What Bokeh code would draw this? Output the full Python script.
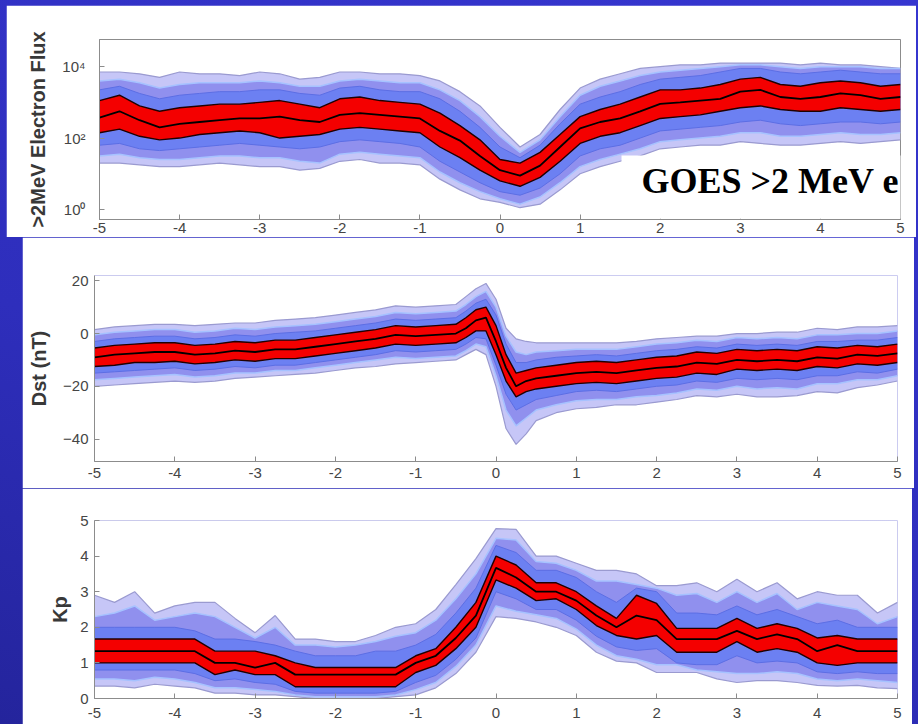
from bokeh.plotting import figure
from bokeh.models import Range1d, FixedTicker, Label, Spacer, BoxAnnotation
from bokeh.layouts import column, row
from bokeh.embed import file_html
from bokeh.resources import INLINE

# ---------------- data (days from event) ----------------
x_ticks = [-5, -4, -3, -2, -1, 0, 1, 2, 3, 4, 5]
x_tick_labels = ["-5", "-4", "-3", "-2", "-1", "0", "1", "2", "3", "4", "5"]

t41 = [-5.0, -4.75, -4.5, -4.25, -4.0, -3.75, -3.5, -3.25, -3.0, -2.75, -2.5, -2.25, -2.0, -1.75,
       -1.5, -1.25, -1.0, -0.75, -0.5, -0.25, 0.0, 0.25, 0.5, 0.75, 1.0, 1.25, 1.5, 1.75, 2.0,
       2.25, 2.5, 2.75, 3.0, 3.25, 3.5, 3.75, 4.0, 4.25, 4.5, 4.75, 5.0]

# GOES >2 MeV electron flux, log10 values of percentile curves
flux_ticks = [1, 100, 10000]
flux_tick_labels = ["10\u2070", "10\u00b2", "10\u2074"]
flux_med = [2.57, 2.75, 2.50, 2.30, 2.40, 2.45, 2.50, 2.55, 2.55, 2.60, 2.50, 2.45, 2.65, 2.70, 2.65, 2.60, 2.55, 2.20, 1.93, 1.50,
            1.10, 0.95, 1.23, 1.75, 2.27, 2.45, 2.55, 2.75, 2.96, 3.00, 3.05, 3.10, 3.30, 3.35, 3.15, 3.10, 3.15, 3.25, 3.20, 3.10, 3.15]
flux_red_lo = [2.15, 2.25, 2.05, 1.95, 2.00, 2.10, 2.15, 2.20, 2.15, 2.00, 2.05, 2.10, 2.25, 2.30, 2.25, 2.20, 2.15, 1.75, 1.45, 1.10,
               0.80, 0.65, 0.90, 1.35, 1.85, 2.05, 2.15, 2.35, 2.55, 2.60, 2.65, 2.75, 2.85, 2.90, 2.80, 2.75, 2.75, 2.85, 2.80, 2.75, 2.80]
flux_red_hi = [3.05, 3.20, 2.90, 2.75, 2.85, 2.90, 2.95, 2.95, 3.00, 3.05, 2.95, 2.85, 3.10, 3.15, 3.05, 3.00, 2.95, 2.70, 2.35, 1.95,
               1.40, 1.30, 1.60, 2.10, 2.60, 2.80, 2.95, 3.15, 3.35, 3.35, 3.40, 3.50, 3.65, 3.70, 3.50, 3.45, 3.55, 3.60, 3.55, 3.45, 3.50]
flux_b3_lo = [1.80, 1.85, 1.70, 1.65, 1.70, 1.75, 1.80, 1.85, 1.80, 1.75, 1.70, 1.75, 1.90, 1.95, 1.90, 1.85, 1.75, 1.35, 1.05, 0.75,
              0.50, 0.40, 0.60, 1.00, 1.50, 1.70, 1.80, 2.00, 2.20, 2.25, 2.30, 2.35, 2.45, 2.50, 2.40, 2.35, 2.40, 2.45, 2.45, 2.40, 2.45]
flux_b3_hi = [3.35, 3.45, 3.25, 3.10, 3.20, 3.25, 3.30, 3.30, 3.35, 3.35, 3.25, 3.20, 3.40, 3.45, 3.35, 3.30, 3.30, 3.10, 2.75, 2.30,
              1.75, 1.45, 1.80, 2.40, 2.95, 3.15, 3.30, 3.50, 3.65, 3.70, 3.75, 3.85, 3.95, 3.95, 3.85, 3.80, 3.85, 3.90, 3.85, 3.80, 3.80]
flux_b2_lo = [1.50, 1.55, 1.45, 1.40, 1.40, 1.45, 1.50, 1.50, 1.45, 1.45, 1.35, 1.30, 1.55, 1.60, 1.55, 1.50, 1.45, 1.05, 0.75, 0.50,
              0.30, 0.15, 0.35, 0.75, 1.20, 1.40, 1.55, 1.70, 1.90, 1.95, 2.00, 2.05, 2.15, 2.15, 2.05, 2.05, 2.10, 2.15, 2.10, 2.10, 2.15]
flux_b2_hi = [3.60, 3.65, 3.55, 3.40, 3.50, 3.55, 3.55, 3.55, 3.60, 3.55, 3.45, 3.45, 3.60, 3.65, 3.60, 3.55, 3.55, 3.35, 3.05, 2.60,
              2.05, 1.60, 1.95, 2.60, 3.20, 3.45, 3.60, 3.75, 3.85, 3.90, 3.95, 4.00, 4.05, 4.05, 4.00, 3.95, 4.00, 4.00, 4.00, 3.95, 3.95]
flux_b1_lo = [1.30, 1.30, 1.25, 1.20, 1.20, 1.25, 1.30, 1.25, 1.20, 1.20, 1.10, 1.15, 1.35, 1.40, 1.30, 1.30, 1.25, 0.85, 0.55, 0.30,
              0.20, 0.05, 0.15, 0.55, 1.00, 1.20, 1.35, 1.50, 1.70, 1.75, 1.80, 1.80, 1.90, 1.85, 1.80, 1.80, 1.85, 1.90, 1.85, 1.90, 1.95]
flux_b1_hi = [3.85, 3.85, 3.80, 3.70, 3.85, 3.80, 3.80, 3.75, 3.85, 3.80, 3.65, 3.70, 3.85, 3.85, 3.80, 3.80, 3.75, 3.60, 3.30, 2.90,
              2.30, 1.75, 2.10, 2.80, 3.40, 3.65, 3.80, 3.95, 4.00, 4.05, 4.05, 4.10, 4.10, 4.10, 4.10, 4.05, 4.10, 4.05, 4.05, 4.00, 3.95]

# Dst (nT)
dst_t = [-5.0, -4.75, -4.5, -4.25, -4.0, -3.75, -3.5, -3.25, -3.0, -2.75, -2.5, -2.25, -2.0, -1.75, -1.5,
         -1.25, -1.0, -0.75, -0.5, -0.375, -0.25, -0.125, 0.0, 0.125, 0.25, 0.375, 0.5, 0.75, 1.0, 1.25,
         1.5, 1.75, 2.0, 2.25, 2.5, 2.75, 3.0, 3.25, 3.5, 3.75, 4.0, 4.25, 4.5, 4.75, 5.0]
dst_ticks = [-40, -20, 0, 20]
dst_med = [-9, -8, -7.5, -7, -7, -8, -7.5, -6.5, -7, -6, -6, -5, -4, -3, -2, -0.5, -1, -0.5, 0, 2,
           5, 6, -3, -13, -20, -18, -17, -16, -15, -14.5, -15, -14, -13, -12.5, -11, -11.5, -10, -10.5, -10, -10.5,
           -9, -9.5, -8, -8.5, -7.5]
dst_red_lo = [-12.5, -12, -11, -11, -10.5, -11.5, -11, -10, -10.5, -9.5, -9.5, -8.5, -7.5, -6.5, -5.5, -4, -4.5, -4, -3.5, -1.5,
              1, 1, -8, -18, -24, -22, -21, -20, -19, -18.5, -19, -18, -17, -16.5, -15, -15.5, -13.5, -14, -13.5, -14,
              -12.5, -13, -11.5, -12, -11]
dst_red_hi = [-5.5, -4.5, -4, -3.5, -3.5, -4.5, -4, -3, -3.5, -2.5, -2.5, -1.5, -0.5, 0.5, 1.5, 3, 2.5, 3, 3.5, 6,
              9, 10, 3, -8, -15, -14, -13, -12, -11, -10.5, -11, -10, -9, -8.5, -7, -7.5, -6, -6.5, -6, -6.5,
              -5, -5.5, -4.5, -5, -4]
dst_b3_lo = [-15, -14.5, -14, -13.5, -13, -14, -13.5, -12.5, -13, -12, -12, -11, -10, -9, -8, -6.5, -7, -6.5, -6, -4,
             -1.5, -2, -12, -23, -29, -27, -25, -23.5, -22, -21.5, -22, -21, -20, -19.5, -18, -18.5, -17, -17.5, -17, -17.5,
             -16, -16, -14.5, -15, -13.5]
dst_b3_hi = [-3, -2, -1.5, -1, -1, -2, -1.5, -0.5, -1, 0, 0.5, 1, 2, 3, 4, 5.5, 5, 5.5, 6, 8.5,
             11.5, 13, 7, -4, -11, -11, -10, -9, -8.5, -8, -8.5, -7.5, -6.5, -6, -5, -5.5, -4, -4.5, -4, -4.5,
             -3, -3, -2.5, -2.5, -1.5]
dst_b2_lo = [-17.5, -17, -16.5, -16, -15.5, -16.5, -16, -15, -15, -14, -14, -13, -12, -11, -10, -9, -9.5, -9, -8.5, -6.5,
             -4, -5, -16, -29, -35, -32, -29, -27, -25.5, -25, -25, -24, -23.5, -22.5, -21, -21.5, -20, -21, -20.5, -21,
             -19, -19, -17.5, -17.5, -16]
dst_b2_hi = [-0.5, 0.5, 1, 1.5, 1.5, 0.5, 1, 2, 1.5, 2.5, 3, 3.5, 4.5, 5.5, 6.5, 8, 7.5, 8, 8.5, 11,
             14, 16, 10, -1, -7, -8, -7, -6.5, -6, -6, -6, -5, -4, -3.5, -2.5, -3, -1.5, -2, -1.5, -2,
             -0.5, -0.5, 0, 0, 1]
dst_b1_lo = [-20, -19.5, -19, -18.5, -18, -18.5, -18, -17, -16.5, -16, -15.5, -15, -14, -13, -12.5, -11.5, -11, -10.5, -10, -8,
             -6, -8, -20, -36, -42, -38, -33, -30, -28.5, -28, -27, -27, -26, -25, -23.5, -24, -23, -24, -24, -23.5,
             -22, -22.5, -20.5, -19.5, -18]
dst_b1_hi = [1.5, 2.5, 3, 3.5, 3.5, 3, 3.5, 4, 4, 5, 5.5, 6, 7, 8, 9, 10.5, 10, 10.5, 11, 14,
             17, 19, 13, 2, -2, -3, -3.5, -3.5, -3.5, -3.5, -3.5, -3, -2, -1.5, -1, -1, 0, 0, 0.5, 0.5,
             2, 1.5, 2.5, 2.5, 3]

# Kp
kp_ticks = [0, 1, 2, 3, 4, 5]
kp_med = [1.33, 1.33, 1.33, 1.33, 1.33, 1.33, 1.0, 1.0, 0.87, 1.0, 0.67, 0.67, 0.67, 0.67, 0.67, 0.67, 1.0, 1.2, 1.7, 2.33,
          3.67, 3.4, 3.0, 3.0, 2.75, 2.33, 2.0, 2.33, 2.2, 1.67, 1.67, 1.67, 1.9, 1.67, 1.8, 1.67, 1.33, 1.5, 1.33, 1.33, 1.33]
kp_red_hi = [1.67, 1.67, 1.67, 1.67, 1.67, 1.67, 1.33, 1.33, 1.33, 1.2, 1.0, 0.87, 0.87, 0.87, 0.87, 0.87, 1.2, 1.4, 2.0, 2.7,
             4.0, 3.75, 3.25, 3.25, 3.0, 2.6, 2.25, 2.9, 2.67, 1.97, 1.97, 1.97, 2.25, 1.97, 2.1, 1.97, 1.7, 1.77, 1.67, 1.67, 1.67]
kp_red_lo = [1.0, 1.0, 1.0, 1.0, 1.0, 1.0, 0.67, 0.8, 0.67, 0.67, 0.33, 0.33, 0.33, 0.33, 0.33, 0.33, 0.73, 0.93, 1.4, 2.0,
             3.33, 3.1, 2.75, 2.8, 2.5, 2.05, 1.77, 1.67, 1.77, 1.3, 1.3, 1.3, 1.6, 1.3, 1.4, 1.3, 1.0, 0.93, 1.0, 1.0, 1.0]
kp_b3_hi = [2.0, 2.0, 2.0, 2.0, 2.0, 1.9, 1.67, 1.67, 1.6, 1.5, 1.33, 1.2, 1.2, 1.2, 1.33, 1.33, 1.5, 1.8, 2.4, 3.1,
            4.3, 4.1, 3.6, 3.6, 3.4, 3.0, 2.7, 3.1, 3.0, 2.4, 2.4, 2.35, 2.6, 2.35, 2.5, 2.3, 2.1, 2.2, 2.0, 2.0, 2.0]
kp_b3_lo = [0.8, 0.8, 0.8, 0.8, 0.8, 0.7, 0.5, 0.55, 0.45, 0.4, 0.2, 0.15, 0.15, 0.15, 0.15, 0.2, 0.45, 0.65, 1.1, 1.7,
            3.0, 2.8, 2.5, 2.5, 2.2, 1.75, 1.45, 1.35, 1.4, 1.0, 0.95, 0.95, 1.2, 1.0, 1.05, 1.0, 0.75, 0.7, 0.75, 0.7, 0.7]
kp_b2_hi = [2.3, 2.4, 2.6, 2.2, 2.3, 2.4, 2.3, 2.0, 1.7, 2.0, 1.5, 1.5, 1.45, 1.5, 1.6, 1.75, 1.85, 2.2, 2.8, 3.5,
            4.5, 4.45, 3.85, 3.8, 3.6, 3.3, 3.3, 3.2, 3.1, 2.9, 2.95, 2.7, 3.0, 2.7, 2.95, 2.5, 2.7, 2.6, 2.5, 2.1, 2.3]
kp_b2_lo = [0.55, 0.55, 0.5, 0.6, 0.55, 0.45, 0.3, 0.3, 0.25, 0.2, 0.1, 0.05, 0.05, 0.05, 0.05, 0.1, 0.25, 0.45, 0.9, 1.5,
            2.6, 2.45, 2.35, 2.25, 1.95, 1.5, 1.2, 1.1, 0.95, 0.95, 0.8, 0.75, 0.7, 0.7, 0.75, 0.7, 0.55, 0.5, 0.55, 0.5, 0.45]
kp_b1_hi = [2.9, 2.7, 3.0, 2.4, 2.6, 2.7, 2.7, 2.25, 1.85, 2.33, 1.67, 1.67, 1.6, 1.6, 1.77, 2.0, 2.1, 2.5, 3.2, 3.93,
            4.77, 4.75, 4.0, 4.0, 3.8, 3.6, 3.6, 3.5, 3.17, 3.17, 3.25, 3.0, 3.35, 3.0, 3.25, 2.8, 3.0, 2.9, 2.9, 2.4, 2.7]
kp_b1_lo = [0.35, 0.35, 0.3, 0.4, 0.35, 0.3, 0.15, 0.15, 0.1, 0.1, 0.05, 0.0, 0.0, 0.0, 0.0, 0.05, 0.1, 0.3, 0.7, 1.3,
            2.3, 2.25, 2.15, 2.0, 1.77, 1.3, 1.05, 1.0, 0.73, 0.73, 0.73, 0.55, 0.45, 0.5, 0.5, 0.45, 0.37, 0.35, 0.37, 0.3, 0.28]

# ---------------- styling ----------------
C_B1, C_B2, C_B3, C_RED = "#c6c6f7", "#9090ee", "#6c80f2", "#f40000"
E_B1, E_B2, E_B3 = "#9a9ad0", "#a6c2ff", "#5c6ee4"
AX = "#8c8c8c"
FONT = "Liberation Sans"


def bands(p, t, b1lo, b1hi, b2lo, b2hi, b3lo, b3hi, rlo, rhi, med):
    p.varea(x=t, y1=b1lo, y2=b1hi, fill_color=C_B1)
    p.varea(x=t, y1=b2lo, y2=b2hi, fill_color=C_B2)
    p.varea(x=t, y1=b3lo, y2=b3hi, fill_color=C_B3)
    p.varea(x=t, y1=rlo, y2=rhi, fill_color=C_RED)
    for arr in (b1lo, b1hi):
        p.line(t, arr, line_color=E_B1, line_width=1.2)
    for arr in (b2lo, b2hi):
        p.line(t, arr, line_color=E_B2, line_width=1.5)
    for arr in (b3lo, b3hi):
        p.line(t, arr, line_color=E_B3, line_width=1)
    for arr in (rlo, rhi):
        p.line(t, arr, line_color="#200000", line_width=1.4)
    p.line(t, med, line_color="black", line_width=1.8)


def style(p, ylabel, xstand, ystand, lstand):
    p.grid.grid_line_color = None
    p.background_fill_color = "white"
    p.border_fill_color = "white"
    for ax in (p.xaxis, p.yaxis):
        ax.axis_line_color = AX
        ax.major_tick_line_color = AX
        ax.minor_tick_line_color = None
        ax.major_tick_in = 5
        ax.major_tick_out = 0
        ax.major_label_text_font = FONT
        ax.major_label_text_font_size = "15px"
        ax.major_label_text_color = "#454545"
    p.xaxis.ticker = FixedTicker(ticks=x_ticks)
    p.xaxis.major_label_overrides = {k: v for k, v in zip(x_ticks, x_tick_labels)}
    p.xaxis.major_label_standoff = xstand
    p.yaxis.major_label_standoff = ystand
    p.yaxis.axis_label = ylabel
    p.yaxis.axis_label_text_font = FONT
    p.yaxis.axis_label_text_font_style = "bold"
    p.yaxis.axis_label_text_font_size = "20px"
    p.yaxis.axis_label_text_color = "#383838"
    p.yaxis.axis_label_standoff = lstand


# top panel: flux
flux_vals = {}
for name, arr in [("b1lo", flux_b1_lo), ("b1hi", flux_b1_hi), ("b2lo", flux_b2_lo), ("b2hi", flux_b2_hi),
                  ("b3lo", flux_b3_lo), ("b3hi", flux_b3_hi), ("rlo", flux_red_lo), ("rhi", flux_red_hi),
                  ("med", flux_med)]:
    flux_vals[name] = [10 ** v for v in arr]

p1 = figure(width=910, height=232, y_axis_type="log", output_backend="svg", toolbar_location=None,
            x_range=Range1d(-5, 5), y_range=Range1d(10 ** -0.28, 10 ** 4.76),
            min_border_left=93, min_border_right=16, min_border_top=34, min_border_bottom=18)
bands(p1, t41, flux_vals["b1lo"], flux_vals["b1hi"], flux_vals["b2lo"], flux_vals["b2hi"],
      flux_vals["b3lo"], flux_vals["b3hi"], flux_vals["rlo"], flux_vals["rhi"], flux_vals["med"])
style(p1, ">2MeV Electron Flux", 3, 14, 10)
p1.yaxis.ticker = FixedTicker(ticks=flux_ticks)
p1.yaxis.major_label_overrides = {k: v for k, v in zip(flux_ticks, flux_tick_labels)}
p1.outline_line_color = AX

# white caption box with "GOES >2 MeV e"
p1.add_layout(BoxAnnotation(left=1.517, right=5.3, bottom=10 ** -0.26, top=10 ** 1.51,
                            fill_color="white", fill_alpha=1.0, line_color=None))
p1.add_layout(Label(x=1.767, y=10 ** 0.80, text="GOES >2 MeV e", text_font="Liberation Serif",
                    text_font_style="bold", text_font_size="36px", text_color="black",
                    text_baseline="alphabetic", text_align="left"))

# middle panel: Dst
p2 = figure(width=892, height=251, output_backend="svg", toolbar_location=None,
            x_range=Range1d(-5, 5), y_range=Range1d(-48.5, 22),
            min_border_left=72, min_border_right=17, min_border_top=38, min_border_bottom=27)
bands(p2, dst_t, dst_b1_lo, dst_b1_hi, dst_b2_lo, dst_b2_hi, dst_b3_lo, dst_b3_hi,
      dst_red_lo, dst_red_hi, dst_med)
style(p2, "Dst (nT)", 6, 6, 10)
p2.yaxis.ticker = FixedTicker(ticks=dst_ticks)
p2.outline_line_color = None

# bottom panel: Kp
p3 = figure(width=890, height=236, output_backend="svg", toolbar_location=None,
            x_range=Range1d(-5, 5), y_range=Range1d(0, 5),
            min_border_left=72, min_border_right=15, min_border_top=32, min_border_bottom=26)
bands(p3, t41, kp_b1_lo, kp_b1_hi, kp_b2_lo, kp_b2_hi, kp_b3_lo, kp_b3_hi,
      kp_red_lo, kp_red_hi, kp_med)
style(p3, "Kp", 9, 6, 6)
p3.yaxis.ticker = FixedTicker(ticks=kp_ticks)
p3.outline_line_color = None

layout = column(
    Spacer(width=918, height=5),
    row(Spacer(width=6, height=232), p1, spacing=0),
    row(Spacer(width=22, height=251), p2, spacing=0),
    row(Spacer(width=22, height=236), p3, spacing=0),
    spacing=0, width=918, height=724,
    styles={"background": "linear-gradient(200deg, #3636d0 0%, #2e2ebc 60%, #24249c 100%)"})

open("out.html", "w").write(file_html(layout, INLINE))
